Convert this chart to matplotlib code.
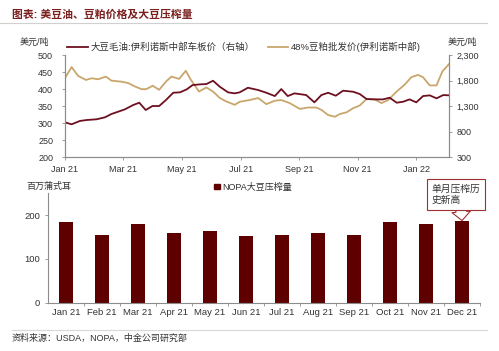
import matplotlib
matplotlib.use("Agg")
import matplotlib.pyplot as plt
from matplotlib.lines import Line2D
from matplotlib.patches import Patch

plt.rcParams["font.family"] = ["Liberation Sans", "Noto Sans CJK SC"]

# ── data ─────────────────────────────────────────────────────────────────────
# x in months since Jan 2021
t_oil = [0, 0.23, 0.51, 0.74, 1.08, 1.37, 1.59, 1.82, 2.05, 2.33,
         2.54, 2.76, 2.99, 3.22, 3.45, 3.7, 3.93, 4.16, 4.36, 4.61,
         4.83, 5.06, 5.29, 5.57, 5.8, 5.97, 6.25, 6.6, 6.88, 7.17,
         7.39, 7.61, 7.84, 8.24, 8.52, 8.76, 8.99, 9.25, 9.5, 9.84,
         10.07, 10.3, 10.58, 10.86, 11.09, 11.33, 11.55, 11.77, 12.0, 12.23,
         12.46, 12.69, 12.92, 13.12]
soy_oil = [984, 945, 1010, 1029, 1043, 1082, 1147, 1192, 1238, 1322,
           1368, 1225, 1303, 1303, 1420, 1563, 1571, 1629, 1713, 1727,
           1733, 1798, 1681, 1571, 1551, 1571, 1661, 1616, 1563, 1498,
           1635, 1498, 1551, 1518, 1375, 1518, 1563, 1505, 1603, 1583,
           1538, 1440, 1433, 1433, 1466, 1368, 1387, 1433, 1375, 1498,
           1512, 1453, 1518, 1512]

t_meal = [0, 0.23, 0.45, 0.72, 0.91, 1.14, 1.4, 1.59, 1.93, 2.16,
          2.39, 2.62, 2.78, 3.0, 3.22, 3.45, 3.64, 3.9, 4.13, 4.29,
          4.58, 4.83, 5.06, 5.29, 5.51, 5.8, 5.97, 6.31, 6.6, 6.88,
          7.17, 7.39, 7.68, 8.02, 8.3, 8.59, 8.76, 8.99, 9.22, 9.39,
          9.62, 9.84, 10.07, 10.3, 10.58, 10.81, 11.04, 11.33, 11.6, 11.83,
          12.06, 12.23, 12.46, 12.69, 12.89, 13.12]
soy_meal = [432, 465, 439, 427, 432, 429, 437, 425, 422, 418,
            408, 400, 400, 410, 398, 422, 437, 430, 454, 429,
            393, 405, 393, 374, 364, 354, 363, 368, 374, 356,
            366, 368, 359, 342, 346, 346, 339, 324, 319, 327,
            332, 344, 352, 371, 370, 359, 368, 393, 413, 435,
            442, 435, 411, 411, 452, 474]

top_ticks = [0, 2, 4, 6, 8, 10, 12]
top_labels = ["Jan 21", "Mar 21", "May 21", "Jul 21", "Sep 21", "Nov 21", "Jan 22"]

months = ["Jan 21", "Feb 21", "Mar 21", "Apr 21", "May 21", "Jun 21",
          "Jul 21", "Aug 21", "Sep 21", "Oct 21", "Nov 21", "Dec 21"]
crush = [184.7, 155.5, 178.9, 160.2, 164.1, 152.8,
         154.8, 158.8, 153.9, 184.6, 179.3, 186.4]

C_OIL = "#6e1020"
C_MEAL = "#c9a66b"
C_BAR = "#5e0000"
C_AX = "#8c8c8c"
C_TXT = "#333333"

# ── figure ───────────────────────────────────────────────────────────────────
fig = plt.figure(figsize=(4.99, 3.51), dpi=100)
fig.patch.set_facecolor("white")

fig.text(0.024, 0.957, "图表: 美豆油、豆粕价格及大豆压榨量", fontsize=7.8,
         fontweight="bold", color="#7a1e1e", va="center")
fig.add_artist(Line2D([0.0, 0.975], [0.934, 0.934], color="#d0d0d0", lw=0.8))

# top panel
ax = fig.add_axes([0.130, 0.552, 0.770, 0.291])
ax2 = ax.twinx()
ax.plot(t_meal, soy_meal, color=C_MEAL, lw=1.3)
ax2.plot(t_oil, soy_oil, color=C_OIL, lw=1.3)
ax.set_xlim(0, 13.12)
ax.set_ylim(200, 500)
ax2.set_ylim(300, 2300)
ax.set_yticks(range(200, 501, 50))
ax2.set_yticks(range(300, 2301, 500))
ax2.set_yticklabels([f"{v:,}" for v in range(300, 2301, 500)])
ax.set_xticks(top_ticks)
ax.set_xticklabels(top_labels)
for a in (ax, ax2):
    a.spines["top"].set_visible(False)
    for s in ("left", "right", "bottom"):
        a.spines[s].set_color(C_AX)
        a.spines[s].set_linewidth(0.8)
    a.tick_params(labelsize=6.5, colors=C_AX, labelcolor=C_TXT,
                  length=2.5, width=0.6, pad=3)
ax.tick_params(axis="y", pad=6)

fig.text(0.040, 0.880, "美元/吨", fontsize=6.5, color=C_TXT, va="center")
fig.text(0.897, 0.880, "美元/吨", fontsize=6.5, color=C_TXT, va="center")

h_oil = Line2D([], [], color=C_OIL, lw=1.3)
h_meal = Line2D([], [], color=C_MEAL, lw=1.3)
fig.legend([h_oil, h_meal],
           ["大豆毛油:伊利诺斯中部车板价（右轴）", "48%豆粕批发价(伊利诺斯中部)"],
           ncol=2, loc="center left", bbox_to_anchor=(0.125, 0.866),
           frameon=False, fontsize=6.8, handlelength=2.2, handletextpad=0.25,
           columnspacing=1.4, labelcolor=C_TXT, borderpad=0)

# bottom panel
bx = fig.add_axes([0.096, 0.137, 0.866, 0.313])
x = list(range(len(months)))
bx.bar(x, crush, width=0.41, color=C_BAR)
bx.set_xlim(-0.5, 11.5)
bx.set_ylim(0, 250)
bx.set_yticks([0, 100, 200])
bx.set_xticks(x)
bx.set_xticklabels(months)
bx.set_xticks([i + 0.5 for i in x], minor=True)
bx.tick_params(axis="x", which="major", length=0, labelsize=6.8,
               labelcolor=C_TXT, pad=4)
bx.tick_params(axis="x", which="minor", length=2.5, width=0.6, colors=C_AX)
bx.tick_params(axis="y", length=2.5, width=0.6, colors=C_AX,
               labelcolor=C_TXT, labelsize=6.8, pad=3)
for s in ("top", "right"):
    bx.spines[s].set_visible(False)
for s in ("left", "bottom"):
    bx.spines[s].set_color(C_AX)
    bx.spines[s].set_linewidth(0.8)

fig.text(0.052, 0.470, "百万蒲式耳", fontsize=6.5, color=C_TXT, va="center")
fig.legend([Patch(color=C_BAR)], ["NOPA大豆压榨量"], loc="center left",
           bbox_to_anchor=(0.420, 0.467), frameon=False, fontsize=6.5,
           handlelength=0.6, handleheight=0.6, handletextpad=0.3,
           labelcolor=C_TXT, borderpad=0)

bx.annotate("单月压榨历\n史新高", xy=(11, crush[11] + 1), xytext=(10.15, 222),
            ha="left", va="bottom", fontsize=7, color=C_TXT,
            multialignment="left", linespacing=1.25, annotation_clip=False,
            bbox=dict(boxstyle="square,pad=0.45", fc="white", ec="#a03030", lw=0.8),
            arrowprops=dict(arrowstyle="simple,head_length=0.9,head_width=1.9,tail_width=1.1",
                            fc="white", ec="#a03030", lw=0.8, shrinkA=0, shrinkB=0,
                            relpos=(0.6, 0)))

fig.add_artist(Line2D([0.024, 0.975], [0.060, 0.060], color="#d8d8d8", lw=0.8))
fig.text(0.024, 0.037, "资料来源：USDA，NOPA，中金公司研究部", fontsize=6.5,
         color=C_TXT, va="center")

plt.savefig("out.png", dpi=100, facecolor="white")
